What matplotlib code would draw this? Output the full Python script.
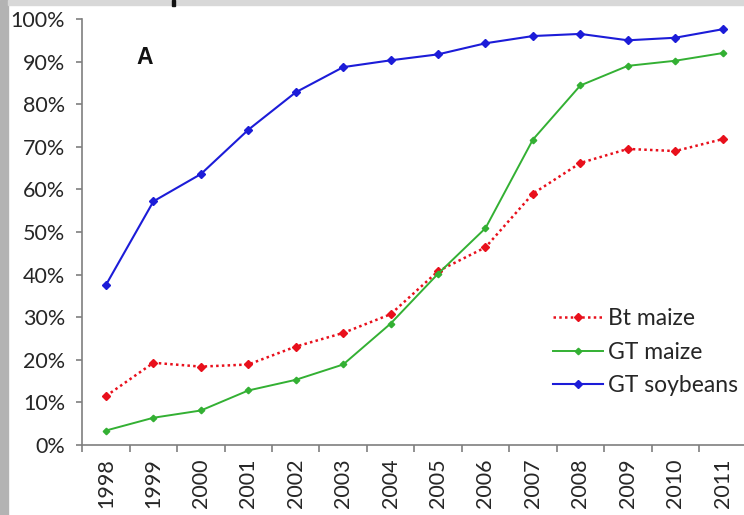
import matplotlib.pyplot as plt
from matplotlib.patches import Rectangle
from matplotlib.ticker import FixedLocator, FuncFormatter

# data (percent adoption)
years = ['1998', '1999', '2000', '2001', '2002', '2003', '2004',
         '2005', '2006', '2007', '2008', '2009', '2010', '2011']
bt_maize = [11.5, 19.3, 18.4, 18.9, 23.1, 26.3, 30.7,
            40.8, 46.4, 59.0, 66.2, 69.5, 69.0, 71.8]
gt_maize = [3.4, 6.4, 8.1, 12.8, 15.3, 18.9, 28.5,
            40.2, 50.9, 71.7, 84.4, 89.0, 90.2, 92.0]
gt_soy = [37.6, 57.2, 63.6, 74.0, 82.8, 88.7, 90.3,
          91.7, 94.3, 96.0, 96.5, 95.0, 95.6, 97.6]

police = 15.5
txt = '#262626'
plt.rcParams['font.family'] = ['Lato', 'DejaVu Sans']

fig = plt.figure(figsize=(7.44, 5.15), dpi=100)
W, H = 744.0, 515.0
x0, y0, y1 = 82.3, 445.0, 19.0
ax = fig.add_axes([x0 / W, (H - y0) / H, (W - x0) / W, (y0 - y1) / H])

x = list(range(len(years)))
ax.plot(x, bt_maize, color='#e8101c', linestyle=(0, (1, 1.3)), linewidth=1.8,
        marker='D', markersize=3.6, label='Bt maize')
ax.plot(x, gt_maize, color='#33b033', linewidth=1.4,
        marker='D', markersize=3.3, label='GT maize')
ax.plot(x, gt_soy, color='#1c1cd8', linewidth=1.5,
        marker='D', markersize=3.6, label='GT soybeans')

ax.set_xlim(-0.5, 13.45)
ax.set_ylim(0, 100)

for s in ['top', 'right']:
    ax.spines[s].set_visible(False)
for s in ['left', 'bottom']:
    ax.spines[s].set_color('#7f7f7f')
    ax.spines[s].set_linewidth(1.2)

ax.set_yticks(range(0, 101, 10))
ax.yaxis.set_major_formatter(FuncFormatter(lambda v, p: '%d%%' % v))
ax.tick_params(axis='y', length=4, width=1.2, color='#7f7f7f', pad=8.5,
               labelsize=police, labelcolor=txt)

ax.set_xticks(x)
ax.set_xticklabels(years, rotation=90)
ax.xaxis.set_minor_locator(FixedLocator([i - 0.5 for i in range(len(years) + 1)]))
ax.tick_params(axis='x', which='major', length=0, pad=9.5,
               labelsize=police, labelcolor=txt)
ax.tick_params(axis='x', which='minor', length=5, width=1.2, color='#7f7f7f')

ax.text(0.82, 91, 'A', ha='center', va='center', fontsize=16.5,
        fontweight='bold', family='Liberation Sans', color='#111111')

leg = ax.legend(loc='upper left', bbox_to_anchor=((553 - x0) / (W - x0), (y0 - 308) / (y0 - y1)),
                frameon=False, fontsize=16.5, borderpad=0, borderaxespad=0,
                handlelength=2.2, handletextpad=0.2, labelspacing=0.55)
for t in leg.get_texts():
    t.set_color(txt)

# grey border of the scanned figure
fig.patches.append(Rectangle((0, 0), 8 / W, 1, transform=fig.transFigure,
                             color='#b3b3b3', zorder=-1))
fig.patches.append(Rectangle((8 / W, 1 - 5 / H), 1, 5 / H, transform=fig.transFigure,
                             color='#d8d8d8', zorder=-1))
fig.patches.append(Rectangle((172 / W, 1 - 6 / H), 3 / W, 6 / H, transform=fig.transFigure,
                             color='#111111', zorder=5))

fig.savefig('out.png', dpi=100)
